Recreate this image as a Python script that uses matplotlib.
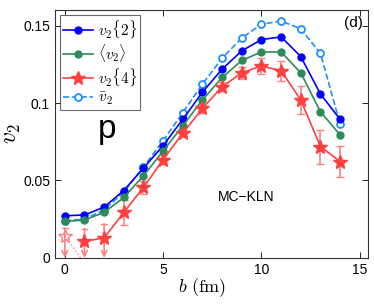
import matplotlib
matplotlib.use("Agg")
import matplotlib.pyplot as plt
import numpy as np

plt.rcParams['font.family'] = ['Liberation Sans', 'DejaVu Sans']
plt.rcParams['mathtext.fontset'] = 'cm'

b = [0, 1, 2, 3, 4, 5, 6, 7, 8, 9, 10, 11, 12, 13, 14]
v2_2 = [0.0272, 0.0277, 0.0328, 0.0435, 0.058, 0.0725, 0.0895, 0.107, 0.1219, 0.1337, 0.141, 0.1427, 0.130, 0.1058, 0.0895]
v2_mean = [0.0235, 0.0245, 0.0294, 0.039, 0.053, 0.069, 0.0854, 0.102, 0.1165, 0.1275, 0.133, 0.133, 0.1195, 0.0944, 0.0794]
v2_bar = [0.024, 0.025, 0.031, 0.0425, 0.0586, 0.0757, 0.0938, 0.1122, 0.129, 0.142, 0.1509, 0.153, 0.148, 0.132, 0.0865]

b4 = [1, 2, 3, 4, 5, 6, 7, 8, 9, 10, 11, 12, 13, 14]
v2_4 = [0.0107, 0.0129, 0.0294, 0.0455, 0.0635, 0.0805, 0.0966, 0.1105, 0.1195, 0.124, 0.1208, 0.102, 0.0719, 0.0622]
v2_4_err = [0.0, 0.0, 0.008, 0.004, 0.003, 0.002, 0.003, 0.003, 0.004, 0.005, 0.0063, 0.009, 0.011, 0.010]

# upper-limit points (arrows down to zero)
b_lim = [0, 1, 2]
v2_lim_top = [0.0193, 0.0189, 0.022]
b_open4 = [0]
v2_open4 = [0.0144]
b_dot = [0, 0.8]
v2_dot = [0.0144, 0.0]

blue = '#0000FF'
green = '#2E8B57'
red = '#FF4040'
cyan = '#1E90FF'
pink = '#FF8080'

fig = plt.figure(figsize=(3.74, 3.07), dpi=100)
ax = fig.add_axes([0.147, 0.16, 0.836, 0.807])

ax.plot(b, v2_bar, color=cyan, ls='--', lw=1.2, marker='o', ms=5,
        mfc='white', mec=cyan, mew=1.3, label=r'$\bar{v}_2$', zorder=3)
ax.plot(b, v2_2, color=blue, lw=1.2, marker='o', ms=5, mfc=blue, mec=blue,
        label=r'$v_2\{2\}$', zorder=4)
ax.plot(b, v2_mean, color=green, lw=1.2, marker='o', ms=5, mfc=green, mec=green,
        label=r'$\langle v_2\rangle$', zorder=4)

# error bars for v2{4}
err_b = [bb for bb, e in zip(b4, v2_4_err) if e > 0]
err_v = [vv for vv, e in zip(v2_4, v2_4_err) if e > 0]
err_e = [e for e in v2_4_err if e > 0]
ax.errorbar(err_b, err_v, yerr=err_e, fmt='none', ecolor=pink, elinewidth=1.2,
            capsize=3, capthick=1.0, zorder=2)
for bb, top in zip(b_lim, v2_lim_top):
    ax.plot([bb - 0.15, bb + 0.15], [top, top], color=pink, lw=1.0, zorder=2)
    ax.annotate('', xy=(bb, 0.0), xytext=(bb, top),
                arrowprops=dict(arrowstyle='->', color=pink, lw=1.2,
                                mutation_scale=10, shrinkA=0, shrinkB=0),
                zorder=2, annotation_clip=False)

ax.plot(b_dot, v2_dot, color=pink, ls=':', lw=1.0, zorder=2)
ax.plot(b_open4, v2_open4, ls='none', marker='*', ms=10, mfc='none', mec=pink,
        mew=1.0, zorder=3)
ax.plot(b4, v2_4, color=red, lw=1.2, marker='*', ms=10.5, mfc=red, mec=red,
        label=r'$v_2\{4\}$', zorder=5)

ax.set_xlim(-0.5, 15.4)
ax.set_ylim(0, 0.16)
ax.set_xticks([0, 5, 10, 15])
ax.set_xticklabels(['0', '5', '10', '15'])
ax.set_yticks([0, 0.05, 0.1, 0.15])
ax.set_yticklabels(['0', '0.05', '0.1', '0.15'])
ax.tick_params(direction='in', top=True, right=True, labelsize=10, length=4, width=0.6)
for s in ax.spines.values():
    s.set_linewidth(0.8)
    s.set_color('#333333')

ax.set_xlabel(r'$b\ (\mathrm{fm})$', fontsize=13)
ax.xaxis.set_label_coords(0.47, -0.075, transform=ax.transAxes)
ax.xaxis.label.set_va('top')
ax.set_ylabel(r'$v_2$', fontsize=17, labelpad=0)

handles, labels = ax.get_legend_handles_labels()
order = [1, 2, 3, 0]
leg = ax.legend([handles[i] for i in order], [labels[i] for i in order],
                loc='upper left', fontsize=11, frameon=True, fancybox=False,
                borderpad=0.2, labelspacing=0.15, handlelength=2.0,
                handletextpad=0.3, borderaxespad=0.3)
leg.get_frame().set_edgecolor('#444444')
leg.get_frame().set_linewidth(0.8)

ax.text(2.17, 0.0826, 'p', fontsize=24, ha='center', va='center')
ax.text(9.2, 0.039, 'MC\u2212KLN', fontsize=10, ha='center', va='center')
ax.text(0.985, 0.975, '(d)', transform=ax.transAxes, fontsize=11, ha='right', va='top')

fig.savefig('out.png', dpi=100)
